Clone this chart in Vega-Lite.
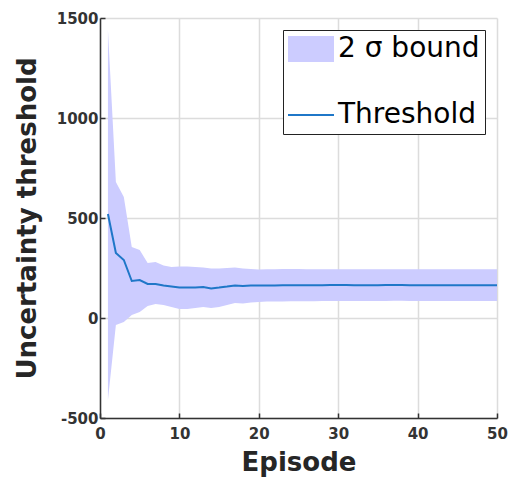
{
  "$schema": "https://vega.github.io/schema/vega-lite/v6.json",
  "width": 397,
  "height": 400,
  "autosize": {"type": "none"},
  "padding": {"left": 100, "top": 18, "right": 14, "bottom": 65},
  "background": "white",
  "view": {"stroke": null},
  "config": {
    "font": "DejaVu Sans",
    "axis": {
      "grid": true,
      "gridColor": "#dcdcdc",
      "gridWidth": 1.5,
      "domainColor": "#333333",
      "domainWidth": 1.5,
      "tickColor": "#333333",
      "tickSize": -5,
      "tickWidth": 1.5,
      "labelFont": "DejaVu Sans",
      "labelFontSize": 15,
      "labelFontWeight": "bold",
      "labelColor": "#333333",
      "labelExpr": "datum.value + ''",
      "titleFont": "DejaVu Sans",
      "titleFontSize": 26,
      "titleFontWeight": "bold",
      "titleColor": "#262626"
    },
    "legend": {
      "orient": "top-right",
      "offset": 12,
      "fillColor": "white",
      "strokeColor": "#222222",
      "padding": 5,
      "labelFont": "DejaVu Sans",
      "labelFontSize": 28,
      "labelColor": "black",
      "labelOffset": 22,
      "symbolSize": 4,
      "symbolType": "M-14,0H32",
      "rowPadding": -33
    }
  },
  "data": {
    "values": [
      {"episode": 1, "threshold": 520, "lo": -410, "hi": 1440},
      {"episode": 2, "threshold": 325, "lo": -35, "hi": 680},
      {"episode": 3, "threshold": 290, "lo": -20, "hi": 605},
      {"episode": 4, "threshold": 185, "lo": 15, "hi": 355},
      {"episode": 5, "threshold": 190, "lo": 30, "hi": 340},
      {"episode": 6, "threshold": 170, "lo": 60, "hi": 275},
      {"episode": 7, "threshold": 170, "lo": 70, "hi": 280},
      {"episode": 8, "threshold": 162, "lo": 65, "hi": 262},
      {"episode": 9, "threshold": 157, "lo": 55, "hi": 255},
      {"episode": 10, "threshold": 152, "lo": 45, "hi": 258},
      {"episode": 11, "threshold": 152, "lo": 45, "hi": 258},
      {"episode": 12, "threshold": 153, "lo": 50, "hi": 255},
      {"episode": 13, "threshold": 155, "lo": 55, "hi": 252},
      {"episode": 14, "threshold": 148, "lo": 50, "hi": 248},
      {"episode": 15, "threshold": 152, "lo": 55, "hi": 248},
      {"episode": 16, "threshold": 157, "lo": 65, "hi": 250},
      {"episode": 17, "threshold": 163, "lo": 75, "hi": 252},
      {"episode": 18, "threshold": 160, "lo": 72, "hi": 248},
      {"episode": 19, "threshold": 162, "lo": 78, "hi": 245},
      {"episode": 20, "threshold": 162, "lo": 80, "hi": 242},
      {"episode": 21, "threshold": 163, "lo": 82, "hi": 244},
      {"episode": 22, "threshold": 163, "lo": 83, "hi": 244},
      {"episode": 23, "threshold": 164, "lo": 83, "hi": 245},
      {"episode": 24, "threshold": 164, "lo": 84, "hi": 245},
      {"episode": 25, "threshold": 164, "lo": 84, "hi": 245},
      {"episode": 26, "threshold": 164, "lo": 84, "hi": 244},
      {"episode": 27, "threshold": 164, "lo": 84, "hi": 244},
      {"episode": 28, "threshold": 164, "lo": 85, "hi": 244},
      {"episode": 29, "threshold": 165, "lo": 85, "hi": 244},
      {"episode": 30, "threshold": 165, "lo": 85, "hi": 244},
      {"episode": 31, "threshold": 165, "lo": 85, "hi": 244},
      {"episode": 32, "threshold": 164, "lo": 85, "hi": 244},
      {"episode": 33, "threshold": 164, "lo": 85, "hi": 244},
      {"episode": 34, "threshold": 164, "lo": 85, "hi": 244},
      {"episode": 35, "threshold": 164, "lo": 85, "hi": 244},
      {"episode": 36, "threshold": 165, "lo": 85, "hi": 244},
      {"episode": 37, "threshold": 165, "lo": 86, "hi": 244},
      {"episode": 38, "threshold": 165, "lo": 86, "hi": 244},
      {"episode": 39, "threshold": 164, "lo": 85, "hi": 244},
      {"episode": 40, "threshold": 164, "lo": 85, "hi": 244},
      {"episode": 41, "threshold": 164, "lo": 85, "hi": 244},
      {"episode": 42, "threshold": 164, "lo": 85, "hi": 244},
      {"episode": 43, "threshold": 164, "lo": 85, "hi": 244},
      {"episode": 44, "threshold": 164, "lo": 85, "hi": 244},
      {"episode": 45, "threshold": 164, "lo": 85, "hi": 244},
      {"episode": 46, "threshold": 164, "lo": 85, "hi": 244},
      {"episode": 47, "threshold": 164, "lo": 85, "hi": 244},
      {"episode": 48, "threshold": 164, "lo": 85, "hi": 244},
      {"episode": 49, "threshold": 164, "lo": 85, "hi": 244},
      {"episode": 50, "threshold": 164, "lo": 85, "hi": 244}
    ]
  },
  "encoding": {
    "x": {
      "field": "episode",
      "type": "quantitative",
      "title": "Episode",
      "scale": {"domain": [0, 50], "nice": false},
      "axis": {"values": [0, 10, 20, 30, 40, 50], "labelPadding": 13, "titlePadding": 8, "labelFlush": false}
    }
  },
  "layer": [
    {
      "mark": {"type": "area", "opacity": 1, "color": "#ccccff"},
      "encoding": {
        "y": {
          "field": "lo",
          "type": "quantitative",
          "title": "Uncertainty threshold",
          "scale": {"domain": [-500, 1500], "nice": false, "zero": false},
          "axis": {"values": [-500, 0, 500, 1000, 1500], "labelPadding": 7, "titlePadding": 16, "labelFlush": false}
        },
        "y2": {"field": "hi"}
      }
    },
    {
      "mark": {"type": "line"},
      "encoding": {
        "y": {"field": "threshold", "type": "quantitative"},
        "stroke": {
          "datum": "Threshold",
          "type": "ordinal",
          "scale": {"domain": ["2 σ bound", "Threshold"], "range": ["#ccccff", "#1f77c8"]},
          "legend": {"title": null}
        },
        "strokeWidth": {
          "datum": "Threshold",
          "type": "ordinal",
          "scale": {"type": "point", "domain": ["2 σ bound", "Threshold"], "range": [26, 2]},
          "legend": {"title": null}
        }
      }
    }
  ]
}
